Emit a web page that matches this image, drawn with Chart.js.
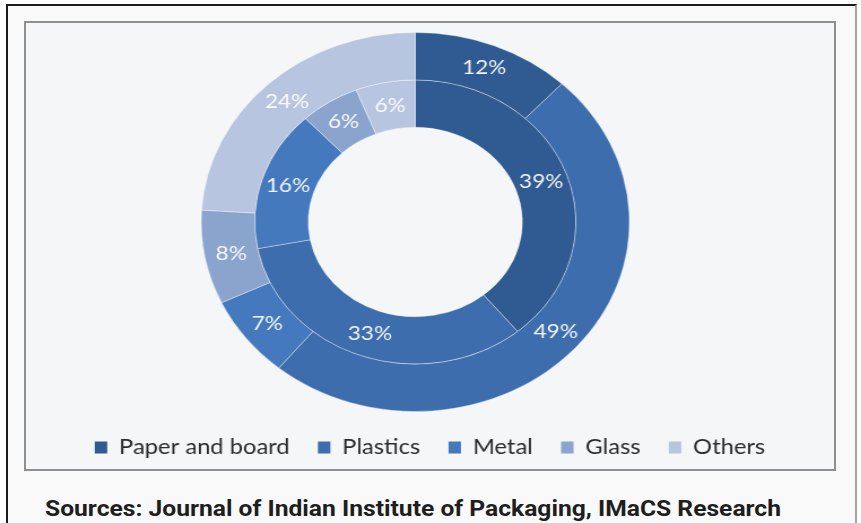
<!DOCTYPE html>
<html>
<head>
<meta charset="utf-8">
<script src="https://cdn.jsdelivr.net/npm/chart.js@4.4.1/dist/chart.umd.min.js"></script>
<style>
  html, body { margin: 0; padding: 0; background: #ffffff; }
  body { width: 861px; height: 523px; overflow: hidden; position: relative; }
  #frame {
    position: absolute; left: 6px; top: 4px; width: 847px; height: 560px;
    border-left: 2px solid #1c1c1c; border-top: 2px solid #1c1c1c; border-right: 2px solid #a3a3a3;
    background: #f9f9f9;
  }
  #box {
    position: absolute; left: 24px; top: 21px; width: 808px; height: 446px;
    border: 2px solid #8f8f8f; background: #f5f6f7;
  }
  #stretch {
    position: absolute; left: 0; top: 0; width: 715px; height: 446px;
    transform: scaleX(1.13); transform-origin: 0 0;
  }
  #source {
    position: absolute; left: 45px; top: 496px; white-space: nowrap;
    font: bold 22px Roboto, sans-serif; color: #1e1e1e;
  }
  #source span { display: inline-block; transform-origin: 0 0; }
</style>
</head>
<body>
<div id="frame"></div>
<div id="box"><div id="stretch"><canvas id="packChart"></canvas></div></div>
<div id="source"><span id="sourceText">Sources: Journal of Indian Institute of Packaging, IMaCS Research</span></div>
<script>
const materials = ['Paper and board', 'Plastics', 'Metal', 'Glass', 'Others'];
const outerShare = [12, 49, 7, 8, 24];   // outer ring
const innerShare = [39, 33, 16, 6, 6];   // inner ring
const ringColors = ['#2f5a92', '#3d6dac', '#4479bd', '#8ba4ce', '#b7c5e0'];

// percentages written on each slice
const ringLabels = {
    id: 'ringLabels',
    afterDatasetsDraw(chart) {
        const ctx = chart.ctx;
        ctx.save();
        ctx.font = '20px Lato';
        ctx.fillStyle = 'rgba(255,255,255,0.93)';
        ctx.textAlign = 'center';
        ctx.textBaseline = 'middle';
        chart.data.datasets.forEach((ds, d) => {
            chart.getDatasetMeta(d).data.forEach((arc, i) => {
                const p = arc.tooltipPosition();
                ctx.fillText(ds.data[i] + '%', p.x, p.y);
            });
        });
        ctx.restore();
    }
};

// doughnut sits a little left of the legend centre
const nudgeLeft = {
    id: 'nudgeLeft',
    afterLayout(chart) {
        chart.chartArea.left -= 13;
        chart.chartArea.right -= 13;
    }
};

const packChart = document.getElementById('packChart');

new Chart(packChart, {
    type: 'doughnut',
    data: {
        labels: materials,
        datasets: [
            {
                data: outerShare,
                backgroundColor: ringColors,
                borderColor: 'rgba(255,255,255,0.35)',
                borderWidth: 1,
                clip: false
            },
            {
                data: innerShare,
                backgroundColor: ringColors,
                borderColor: 'rgba(255,255,255,0.35)',
                borderWidth: 1,
                clip: false
            }
        ]
    },
    options: {
        responsive: true,
        maintainAspectRatio: false,
        animation: false,
        cutout: '50%',
        layout: {
            padding: { top: 9, bottom: 1, left: 0, right: 0 }
        },
        plugins: {
            tooltip: { enabled: false },
            legend: {
                display: true,
                position: 'bottom',
                labels: {
                    boxWidth: 11,
                    boxHeight: 12,
                    padding: 25,
                    color: '#2b2b2b',
                    font: { family: 'Lato', size: 21 },
                    generateLabels(chart) {
                        const items = Chart.overrides.doughnut.plugins.legend.labels.generateLabels(chart);
                        items.forEach(it => { it.lineWidth = 0; });
                        return items;
                    }
                }
            }
        }
    },
    plugins: [ringLabels, nudgeLeft]
});

// stretch the source line to its column width
const src = document.getElementById('sourceText');
src.style.transform = 'scaleX(' + (736 / src.getBoundingClientRect().width) + ')';
</script>
</body>
</html>
